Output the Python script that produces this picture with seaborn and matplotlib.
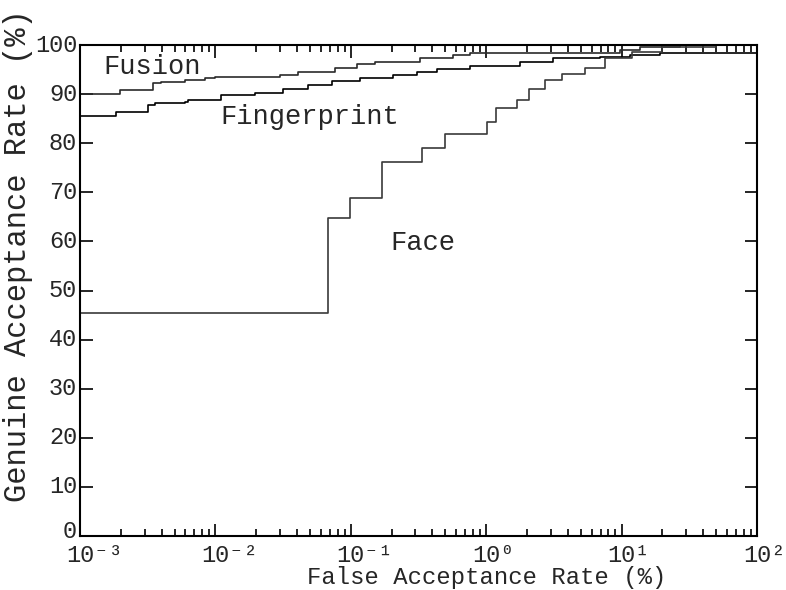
import matplotlib
matplotlib.use("Agg")
import matplotlib.pyplot as plt
import matplotlib.transforms as mtransforms
import seaborn as sns
import numpy as np
from matplotlib.ticker import LogLocator, FixedLocator, NullLocator

# ---- data ----
face_far = [0.001, 0.068, 0.099, 0.17, 0.336, 0.50, 1.01, 1.18, 1.69, 2.07, 2.72, 3.63, 5.37, 7.5, 12, 20, 50, 100]
face_gar = [45.4, 64.7, 68.8, 76.1, 79.1, 81.9, 84.4, 87.1, 88.9, 91.1, 92.8, 94.0, 95.4, 97.4, 98.5, 99.5, 100, 100]

fusion_far = [0.001, 0.00197, 0.00346, 0.00396, 0.00596, 0.00838, 0.0099, 0.030, 0.0407, 0.0764, 0.111, 0.151, 0.324, 0.569, 0.759, 9.7, 13.7, 27, 100]
fusion_gar = [90.1, 90.8, 92.2, 92.5, 92.8, 93.2, 93.4, 93.9, 94.5, 95.3, 96.2, 96.6, 97.3, 98.0, 98.3, 99.0, 99.6, 100, 100]

finger_far = [0.001, 0.00184, 0.00318, 0.00358, 0.00596, 0.00628, 0.011, 0.0196, 0.0316, 0.0483, 0.0727, 0.117, 0.205, 0.308, 0.433, 0.759, 1.78, 3.11, 6.9, 11.5, 19.2, 100]
finger_gar = [85.5, 86.3, 87.7, 88.1, 88.4, 88.8, 89.8, 90.3, 91.1, 91.8, 92.7, 93.2, 93.9, 94.6, 95.1, 95.8, 96.6, 97.3, 97.6, 98.0, 98.3, 98.3]

labels = ["Fusion", "Fingerprint", "Face"]
x_ticks = [1e-3, 1e-2, 1e-1, 1e0, 1e1, 1e2]
x_tick_labels = ["10⁻³", "10⁻²", "10⁻¹", "10⁰", "10¹", "10²"]
y_ticks = [0, 10, 20, 30, 40, 50, 60, 70, 80, 90, 100]

sns.set_style("ticks")
font = "Liberation Mono"
plt.rcParams["font.family"] = [font, "DejaVu Sans Mono", "DejaVu Sans"]

fig = plt.figure(figsize=(7.86, 5.90), dpi=100)
ax = fig.add_axes([80 / 786, 1 - 536 / 590, 677 / 786, 491 / 590])

sns.lineplot(x=fusion_far, y=fusion_gar, drawstyle="steps-post", estimator=None,
             color="#2a2a2a", lw=1.2, ax=ax)
sns.lineplot(x=finger_far, y=finger_gar, drawstyle="steps-post", estimator=None,
             color="#000000", lw=1.2, ax=ax)
sns.lineplot(x=face_far, y=face_gar, drawstyle="steps-post", estimator=None,
             color="#3a3a3a", lw=1.2, ax=ax)

ax.set_xscale("log")
ax.set_xlim(1e-3, 1e2)
ax.set_ylim(0, 100)
ax.xaxis.set_major_locator(FixedLocator(x_ticks))
ax.xaxis.set_minor_locator(LogLocator(base=10, subs=np.arange(2, 10), numticks=20))
ax.set_xticklabels(x_tick_labels)
ax.yaxis.set_major_locator(FixedLocator(y_ticks))
ax.yaxis.set_minor_locator(NullLocator())
ax.set_yticklabels([str(v) for v in y_ticks])

ax.tick_params(which="both", direction="in", top=True, right=True, width=1.2, color="black")
ax.tick_params(which="major", length=9)
ax.tick_params(which="minor", length=5)
ax.tick_params(axis="x", which="major", labelsize=17, pad=5.5)
ax.tick_params(axis="y", which="major", labelsize=17, pad=2)
for s in ax.spines.values():
    s.set_visible(True)
    s.set_linewidth(1.5)
    s.set_color("black")

# put the "10" of each x tick label centred on its tick
shift = mtransforms.ScaledTranslation(-14.2 / 100, 0, fig.dpi_scale_trans)
for lbl in ax.get_xticklabels():
    lbl.set_horizontalalignment("left")
    lbl.set_transform(lbl.get_transform() + shift)

ylbls = ax.get_yticklabels()
for lbl in ylbls:
    lbl.set_verticalalignment("center")
ylbls[0].set_transform(ylbls[0].get_transform()
                       + mtransforms.ScaledTranslation(0, 4 / 100, fig.dpi_scale_trans))

ax.set_xlabel("False Acceptance Rate (%)", fontsize=17.2)
ax.xaxis.set_label_coords(0.60, -0.0621)
ax.set_ylabel("Genuine Acceptance Rate (%)", fontsize=22)
ax.yaxis.set_label_coords(-0.069, 0.572)

ax.text(0.00148, 95.6, labels[0], fontsize=19.5, va="center", ha="left")
ax.text(0.0108, 85.3, labels[1], fontsize=19.5, va="center", ha="left")
ax.text(0.195, 59.7, labels[2], fontsize=19.5, va="center", ha="left")

fig.savefig("out.png", dpi=100)
